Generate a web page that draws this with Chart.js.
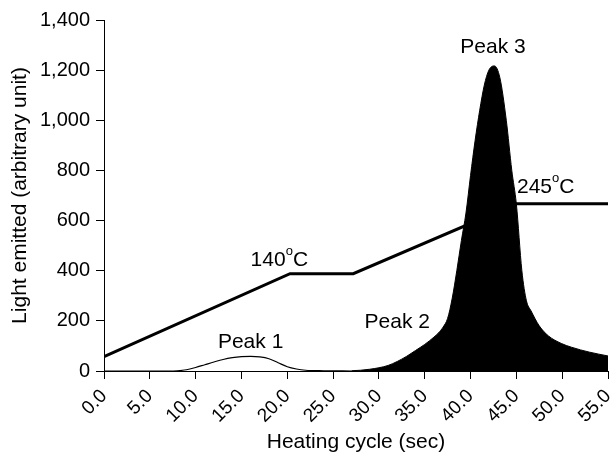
<!DOCTYPE html>
<html><head><meta charset="utf-8">
<script src="https://cdn.jsdelivr.net/npm/chart.js@4/dist/chart.umd.min.js"></script>
<style>html,body{margin:0;padding:0;background:#fff}#wrap{width:614px;height:455px}</style>
</head><body><div id="wrap"><canvas id="c"></canvas></div>
<script>
const tempX = [0, 20.3, 27.2, 45.0, 55];
const tempY = [57, 388, 388, 667, 667];

const peak1X = [0, 7, 8, 9, 10, 11, 12, 13, 14, 15, 16, 17, 18, 19, 20, 21, 22, 24, 27];
const peak1Y = [0, 0, 1, 5, 14, 25, 36, 46, 53, 57, 58, 56, 49, 33, 17, 8, 3, 1, 0];

const glowX = [27, 28, 29, 30, 31, 32, 33, 34, 35, 36, 36.5, 37, 37.5, 38, 38.5, 39, 39.5, 40, 40.5, 41, 41.5, 42, 42.6, 43.2, 43.9, 44.5, 45, 45.6, 46.1, 46.6, 47.5, 48.5, 49.9, 51, 53, 55];
const glowY = [1, 3, 7, 13, 22, 38, 58, 82, 106, 135, 152, 175, 210, 290, 400, 520, 630, 780, 920, 1040, 1140, 1200, 1217, 1170, 1000, 800, 666, 400, 280, 240, 180, 140, 110, 95, 75, 60];

const xTicks = [0, 5, 10, 15, 20, 25, 30, 35, 40, 45, 50, 55];
const yTicks = [0, 200, 400, 600, 800, 1000, 1200, 1400];

const notes = [
  {text: 'Peak 1', x: 16.0, y: 116, align: 'center'},
  {text: 'Peak 2', x: 32.0, y: 195, align: 'center'},
  {text: 'Peak 3', x: 42.45, y: 1292, align: 'center'},
  {text: '140', sup: 'o', tail: 'C', x: 16.0, y: 443, align: 'left'},
  {text: '245', sup: 'o', tail: 'C', x: 45.07, y: 734, align: 'left'}
];

const pts = (xs, ys) => xs.map((x, i) => ({x, y: ys[i]}));
const FONT = '"Liberation Sans", Arial, sans-serif';

const notePlugin = {
  id: 'notes',
  afterDatasetsDraw(chart) {
    const ctx = chart.ctx, xs = chart.scales.x, ys = chart.scales.y;
    ctx.save();
    ctx.fillStyle = '#000';
    ctx.textBaseline = 'middle';
    notes.forEach(n => {
      const px = xs.getPixelForValue(n.x), py = ys.getPixelForValue(n.y);
      ctx.font = '21px ' + FONT;
      ctx.textAlign = n.align;
      ctx.fillText(n.text, px, py);
      if (n.sup) {
        ctx.textAlign = 'left';
        let w = ctx.measureText(n.text).width;
        ctx.font = '13px ' + FONT;
        ctx.fillText(n.sup, px + w, py - 9);
        w += ctx.measureText(n.sup).width;
        ctx.font = '21px ' + FONT;
        ctx.fillText(n.tail, px + w, py);
      }
    });
    ctx.restore();
  }
};

new Chart(document.getElementById('c'), {
  type: 'line',
  data: {
    datasets: [
      {data: pts(glowX, glowY), borderColor: '#000', backgroundColor: '#000', borderWidth: 1, fill: 'origin', pointRadius: 0, cubicInterpolationMode: 'monotone', order: 1},
      {data: pts(tempX, tempY), borderColor: '#000', borderWidth: 3, fill: false, pointRadius: 0, tension: 0, order: 2},
      {data: pts(peak1X, peak1Y), borderColor: '#000', borderWidth: 1.2, fill: false, pointRadius: 0, cubicInterpolationMode: 'monotone', order: 3}
    ]
  },
  options: {
    responsive: true, maintainAspectRatio: false, animation: false,
    layout: {padding: {left: 4, right: 6, top: 20, bottom: 0}},
    plugins: {legend: {display: false}, tooltip: {enabled: false}},
    scales: {
      x: {
        type: 'linear', min: 0, max: 55,
        afterBuildTicks: s => { s.ticks = xTicks.map(v => ({value: v})); },
        afterFit: s => { s.height = 84; s.paddingRight = 0; s.paddingLeft = 0; },
        ticks: {color: '#000', font: {family: FONT, size: 19}, minRotation: 45, maxRotation: 45, padding: 6, callback: v => v.toFixed(1)},
        grid: {drawOnChartArea: false, color: '#000', tickLength: 8, tickWidth: 1},
        border: {color: '#000', width: 1},
        title: {display: true, text: 'Heating cycle (sec)', color: '#000', font: {family: FONT, size: 21}, padding: {top: 0, bottom: 0}}
      },
      y: {
        min: 0, max: 1400,
        afterBuildTicks: s => { s.ticks = yTicks.map(v => ({value: v})); },
        afterFit: s => { s.width = 100; s.paddingTop = 0; s.paddingBottom = 0; },
        ticks: {color: '#000', font: {family: FONT, size: 20}, padding: 6, callback: v => v.toLocaleString('en-US')},
        grid: {drawOnChartArea: false, color: '#000', tickLength: 8, tickWidth: 1},
        border: {color: '#000', width: 1},
        title: {display: true, text: 'Light emitted (arbitrary unit)', color: '#000', font: {family: FONT, size: 21}, padding: {bottom: 0}}
      }
    }
  },
  plugins: [notePlugin]
});
</script></body></html>
